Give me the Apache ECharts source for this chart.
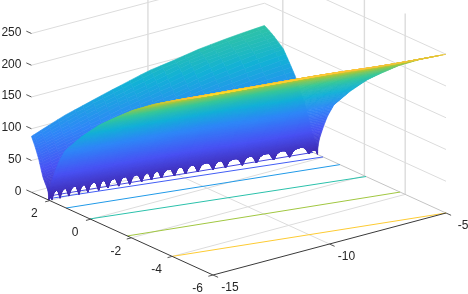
<!DOCTYPE html>
<html><head><meta charset="utf-8">
<style>html,body{margin:0;padding:0;background:#fff;overflow:hidden}#c{width:468px;height:294px}</style>
<script src="https://cdn.jsdelivr.net/npm/echarts@6/dist/echarts.min.js"></script></head>
<body><div id="c"></div>
<script>
// ---- axis ticks
const xTicks=[-15,-10,-5];
const yTicks=[2,0,-2,-4,-6];
const zTicks=[0,50,100,150,200,250];
const wallXLines=[-10];
const wallYLines=[2,-2,-4];
// ---- surface readings
const valleyX=[-15,-14,-13,-12,-11,-10,-9,-8,-7,-6,-5];
const valleyY=[2.05,1.88,1.72,1.55,1.39,1.22,1.03,0.79,0.6,0.44,0.3];
const frontDist=[0,0.02,0.06,0.12,0.2,0.32,0.5,0.81,1.1,1.6,2.43,3.2,4.05,5.1,6.3,7.2,8.05,9];
const frontZ=[0,10,20,29,38,51,68,90,102,123,153,176,200,225,250,267,284,300];
const backDist=[0,0.02,0.06,0.15,0.29,0.5,0.68,0.85,1.1,1.45,1.68,2.14,2.4,2.6,2.8];
const backZ=[0,10,16,22,32,58,75,88,108,129,142,155,161,165,168];
const cuspX=[-15,-14.88,-14.58,-14.25,-13.87,-13.54,-13.13,-12.79,-12.38,-11.97,-11.52,-11.15,-10.78,-10.29,-9.88,-9.43,-8.87,-8.43,-7.83,-7.31,-6.67,-6.07,-5.33,-5];
const cuspZ=[0,0,0,1,1,2,2,3,3,3,4,4,4,4,4,4,4,4,4,4,4,4,4];
const notchZ=[4,14,15,16,16,17,17,17,17,17,17,17,17,17,17,17,17,17,17,17,17,17,8];
const arcShape=[0,0.7,0.95,1,0.95,0.7];
// ---- floor contours
const contourLevel=[30,50,100,150,200,250];
const contourX0=[-14.6,-14.87,-15,-15,-15,-15];
const contourY0=[2.3,2.14,1.2,0.03,-1.8,-4];
const contourX1=[-5,-5,-5,-5,-5,-5];
const contourY1=[0.52,0.03,-0.8,-2.08,-3.75,-6];
// ---- view
const yEdge=2.9, zTop=285, cMax=305;
const origin=[213,275], ex=[23.3,-6.2], ey=[-20.4,-9.3], zs=0.635;
function proj(x,y,z){return [origin[0]+(x+15)*ex[0]+(y+6)*ey[0],origin[1]+(x+15)*ex[1]+(y+6)*ey[1]-z*zs];}
const parula=[[62,38,168],[72,82,244],[46,135,247],[18,177,214],[55,200,151],[171,199,57],[254,195,56],[249,251,21]];
function color(z){let t=Math.max(0,Math.min(1,z/cMax))*7,i=Math.min(6,Math.floor(t)),f=t-i,a=parula[i],b=parula[i+1];
 return 'rgb('+[0,1,2].map(k=>Math.round(a[k]+(b[k]-a[k])*f)).join(',')+')';}
function lerp(xs,ys,v){if(v<=xs[0])return ys[0];for(let i=1;i<xs.length;i++)if(v<=xs[i])return ys[i-1]+(ys[i]-ys[i-1])*(v-xs[i-1])/(xs[i]-xs[i-1]);return ys[ys.length-1];}
const items=[];
const GRID='#dcdcdc',AXIS='#3a3a3a',TXT='#262626';
function line(a,b,c,w){items.push({k:'l',p:[proj(...a),proj(...b)],c:c,w:w||1});}
function text(s,pt,dx,dy,al){items.push({k:'t',s:s,p:proj(...pt),dx:dx,dy:dy,al:al||'center'});}
// grid
zTicks.filter(z=>z>0).forEach(z=>{line([-15,yEdge,z],[-5,yEdge,z],GRID);line([-5,yEdge,z],[-5,-6,z],GRID);});
wallXLines.forEach(x=>line([x,yEdge,0],[x,yEdge,zTop],GRID,1.4));
wallYLines.forEach(y=>line([-5,y,0],[-5,y,zTop],GRID,1.4));
wallXLines.forEach(x=>line([x,yEdge,0],[x,-6,0],GRID));
yTicks.filter(y=>y>-6).forEach(y=>line([-15,y,0],[-5,y,0],GRID));
line([-15,yEdge,0],[-5,yEdge,0],GRID);line([-5,yEdge,0],[-5,-6,0],'#c4c4c4');
// contours
contourLevel.forEach((z,i)=>line([contourX0[i],contourY0[i],0],[contourX1[i],contourY1[i],0],color(z*cMax/285),1));
// surface columns
const cols=[];
notchZ.forEach((h,n)=>{arcShape.forEach((s,j)=>{cols.push({x:cuspX[n]+(cuspX[n+1]-cuspX[n])*j/arcShape.length,f:cuspZ[n]+(h-cuspZ[n])*s});});});
cols.push({x:-5,f:0});
const coarseStep=6;
function sheet(side,rows,dist,zv){
 const cut=Math.max(...notchZ);
 const dCut=lerp(zv,dist,cut);
 const grid=cols.map(c=>{const y0=lerp(valleyX,valleyY,c.x);
  const dMin=lerp(zv,dist,c.f),dMax=side>0?yEdge-y0:y0+6,r=[];
  for(let i=0;i<=rows;i++){const t=i/rows,d=Math.max(dMin,dMax*t*t);r.push([c.x,y0+side*d,lerp(dist,zv,d),d]);}
  return r;});
 const rowOrder=[];for(let i=0;i<rows;i++)rowOrder.push(i);
 if(side>0)rowOrder.reverse();
 rowOrder.forEach(i=>{
  const fine=grid.some(col=>col[i][3]<=dCut*1.05);
  const step=fine?1:coarseStep;
  for(let j=grid.length-1;j>0;j-=step){
   const k=Math.max(0,j-step);
   const a=grid[k][i],b=grid[j][i],c=grid[j][i+1],d=grid[k][i+1];
   const z=(a[2]+b[2]+c[2]+d[2])/4;
   items.push({k:'q',p:[a,b,c,d].map(q=>proj(...q)),c:color(z)});
  }});
}
sheet(1,40,backDist,backZ);
sheet(-1,90,frontDist,frontZ);
// axes
line([-15,yEdge,0],[-15,-6,0],AXIS);line([-15,-6,0],[-5,-6,0],AXIS);
zTicks.forEach(z=>{line([-15,yEdge,z],[-15,yEdge+0.25,z],'#555');text(String(z),[-15,yEdge,z],-10,-1,'right');});
yTicks.forEach(y=>{line([-15,y,0],[-15.2,y,0],'#555');text(String(y),[-15,y,0],-15.5,13.5);});
xTicks.forEach(x=>{line([x,-6,0],[x,-6.25,0],'#555');text(String(x),[x,-6,0],17,13);});
const chart=echarts.init(document.getElementById('c'),null,{renderer:'canvas'});
chart.setOption({animation:false,
 grid:{left:0,right:0,top:0,bottom:0},
 xAxis:{type:'value',min:0,max:468,show:false},
 yAxis:{type:'value',min:0,max:294,inverse:true,show:false},
 series:[{type:'custom',coordinateSystem:'cartesian2d',silent:true,clip:false,progressive:0,animation:false,
  data:items.map((_,i)=>[i]),encode:{x:0,y:0},
  renderItem:function(params,api){
   const it=items[api.value(0)],pts=it.p;
   if(it.k==='t'){const o=api.coord(pts);return {type:'text',style:{x:o[0]+it.dx,y:o[1]+it.dy,text:it.s,font:'12px "Liberation Sans",Arial,sans-serif',fill:TXT,textAlign:it.al,textVerticalAlign:'middle'}};}
   const sc=pts.map(q=>api.coord(q));
   if(it.k==='l')return {type:'polyline',shape:{points:sc},style:{stroke:it.c,lineWidth:it.w,fill:null}};
   return {type:'polygon',shape:{points:sc},style:{fill:it.c,stroke:it.c,lineWidth:0.6}};
  }}]
});
</script></body></html>
